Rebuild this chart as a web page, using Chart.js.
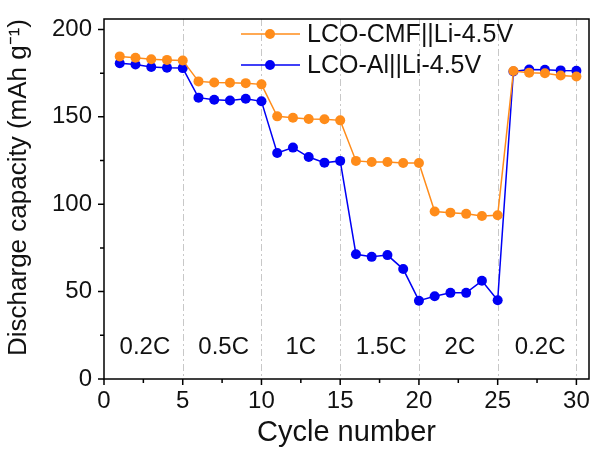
<!DOCTYPE html>
<html>
<head>
<meta charset="utf-8">
<script src="https://cdn.jsdelivr.net/npm/chart.js@4/dist/chart.umd.min.js"></script>
<style>
  html, body { margin: 0; padding: 0; background: #fff; }
  #wrap { width: 595px; height: 459px; }
</style>
</head>
<body>
<div id="wrap"><canvas id="chart1"></canvas></div>
<script>
const cycles = [1,2,3,4,5,6,7,8,9,10,11,12,13,14,15,16,17,18,19,20,21,22,23,24,25,26,27,28,29,30];
const cmfValues = [184.6,183.8,183.0,182.6,182.3, 170.3,169.7,169.5,169.3,168.6,
                   150.3,149.5,148.8,148.6,148.0, 124.8,124.2,124.2,123.6,123.6,
                   95.8,95.2,94.5,93.3,93.7, 176.2,175.3,175.0,173.7,173.1];
const alValues = [180.7,180.0,178.5,178.1,177.9, 161.0,159.8,159.4,160.4,158.9,
                  129.3,132.4,127.0,123.8,124.8, 71.4,69.9,70.9,62.9,44.8,
                  47.4,49.3,49.3,56.2,45.1, 176.0,177.1,177.0,176.6,176.4];
const seriesLabels = ['LCO-CMF||Li-4.5V', 'LCO-Al||Li-4.5V'];
const rateLabels = ['0.2C','0.5C','1C','1.5C','2C','0.2C'];
const ratePos = [2.6, 7.6, 12.5, 17.6, 22.6, 27.7];
const xTicks = [0,5,10,15,20,25,30];
const xMinor = [2.5,7.5,12.5,17.5,22.5,27.5];
const xDividers = [5,10,15,20,25,30];
const yTicks = [0,50,100,150,200];
const yMinor = [25,75,125,175];

const orange = '#FF8C1A';
const blue = '#0000F5';
const fontFam = '"Liberation Sans", Arial, sans-serif';

const decorPlugin = {
    id: 'decor',
    beforeDatasetsDraw(chart){
        const ctx = chart.ctx;
        const a = chart.chartArea;
        const xs = chart.scales.x;
        ctx.save();
        ctx.strokeStyle = '#c8c8c8';
        ctx.lineWidth = 1;
        ctx.setLineDash([7,3,2,3]);
        xDividers.forEach(function(v){
            const px = Math.round(xs.getPixelForValue(v)) + 0.5;
            ctx.beginPath();
            ctx.moveTo(px, a.top);
            ctx.lineTo(px, a.bottom);
            ctx.stroke();
        });
        ctx.restore();
    },
    afterDatasetsDraw(chart){
        const ctx = chart.ctx;
        const a = chart.chartArea;
        const xs = chart.scales.x;
        const ys = chart.scales.y;
        ctx.save();
        ctx.strokeStyle = '#000';
        ctx.lineWidth = 1.5;
        ctx.setLineDash([]);
        ctx.strokeRect(a.left, a.top, a.right - a.left, a.bottom - a.top);
        ctx.beginPath();
        xTicks.forEach(function(v){
            const px = xs.getPixelForValue(v);
            ctx.moveTo(px, a.bottom); ctx.lineTo(px, a.bottom + 6);
        });
        xMinor.forEach(function(v){
            const px = xs.getPixelForValue(v);
            ctx.moveTo(px, a.bottom); ctx.lineTo(px, a.bottom + 4);
        });
        yTicks.forEach(function(v){
            const py = ys.getPixelForValue(v);
            ctx.moveTo(a.left, py); ctx.lineTo(a.left - 6, py);
        });
        yMinor.forEach(function(v){
            const py = ys.getPixelForValue(v);
            ctx.moveTo(a.left, py); ctx.lineTo(a.left - 4, py);
        });
        ctx.stroke();
        ctx.restore();
    },
    afterDraw(chart){
        const ctx = chart.ctx;
        const xs = chart.scales.x;
        const ys = chart.scales.y;
        ctx.save();
        // rate labels
        ctx.fillStyle = '#111';
        ctx.font = '24px ' + fontFam;
        ctx.textAlign = 'center';
        ctx.textBaseline = 'middle';
        rateLabels.forEach(function(t, i){
            ctx.fillText(t, xs.getPixelForValue(ratePos[i]), ys.getPixelForValue(18.3));
        });
        // legend
        const colors = [orange, blue];
        const rows = [34, 65];
        ctx.font = '25px ' + fontFam;
        ctx.textAlign = 'left';
        seriesLabels.forEach(function(t, i){
            ctx.strokeStyle = colors[i];
            ctx.fillStyle = colors[i];
            ctx.lineWidth = 1.5;
            ctx.beginPath();
            ctx.moveTo(241, rows[i]); ctx.lineTo(300, rows[i]);
            ctx.stroke();
            ctx.beginPath();
            ctx.arc(270, rows[i], 5, 0, Math.PI*2);
            ctx.fill();
            ctx.fillStyle = '#111';
            ctx.fillText(t, 307, rows[i] + 1);
        });
        ctx.restore();
    }
};

const ctx1 = document.querySelector('canvas#chart1').getContext('2d');
const chart1 = new Chart(ctx1, {
    type: 'line',
    data: {
        labels: cycles,
        datasets: [
            {
                label: seriesLabels[0],
                data: cycles.map(function(c, i){ return {x: c, y: cmfValues[i]}; }),
                borderColor: orange,
                backgroundColor: orange,
                borderWidth: 1.5,
                pointRadius: 5,
                pointBorderWidth: 0,
                pointHoverRadius: 5
            },
            {
                label: seriesLabels[1],
                data: cycles.map(function(c, i){ return {x: c, y: alValues[i]}; }),
                borderColor: blue,
                backgroundColor: blue,
                borderWidth: 1.5,
                pointRadius: 5,
                pointBorderWidth: 0,
                pointHoverRadius: 5
            }
        ]
    },
    options: {
        responsive: true,
        maintainAspectRatio: false,
        animation: false,
        layout: { padding: { top: 19, right: 6, left: 0, bottom: 0 } },
        plugins: {
            legend: { display: false },
            tooltip: { enabled: false }
        },
        scales: {
            x: {
                type: 'linear',
                min: 0,
                max: 30.8,
                afterBuildTicks: function(scale){ scale.ticks = xTicks.map(function(v){ return {value: v}; }); },
                afterFit: function(scale){
                    scale.height = 80;
                    scale.paddingLeft = 0;
                    scale.paddingRight = 0;
                },
                grid: { display: false, drawTicks: false },
                border: { display: false },
                ticks: {
                    color: '#111',
                    padding: 8,
                    maxRotation: 0,
                    font: { family: fontFam, size: 24 }
                },
                title: {
                    display: true,
                    text: 'Cycle number',
                    color: '#111',
                    padding: { top: 0, bottom: 9 },
                    font: { family: fontFam, size: 29 }
                }
            },
            y: {
                min: 0,
                max: 206,
                afterBuildTicks: function(scale){ scale.ticks = yTicks.map(function(v){ return {value: v}; }); },
                afterFit: function(scale){
                    scale.width = 104;
                    scale.paddingTop = 0;
                    scale.paddingBottom = 0;
                },
                grid: { display: false, drawTicks: false },
                border: { display: false },
                ticks: {
                    color: '#111',
                    padding: 12,
                    font: { family: fontFam, size: 24 }
                },
                title: {
                    display: true,
                    text: 'Discharge capacity (mAh g⁻¹)',
                    color: '#111',
                    align: 'end',
                    padding: { top: 3, bottom: 0 },
                    font: { family: fontFam, size: 26 }
                }
            }
        }
    },
    plugins: [decorPlugin]
});
</script>
</body>
</html>
